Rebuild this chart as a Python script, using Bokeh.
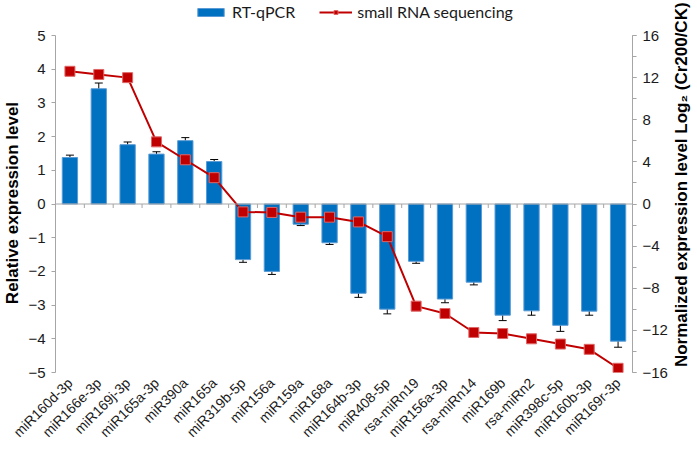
import math
from bokeh.plotting import figure
from bokeh.layouts import row
from bokeh.models import (ColumnDataSource, Range1d, LinearAxis, FixedTicker,
                          SingleIntervalTicker, Whisker, Legend, LegendItem, Span)
from bokeh.core.properties import value
from bokeh.embed import file_html
from bokeh.resources import INLINE

mirnas = ["miR160d-3p", "miR166e-3p", "miR169j-3p", "miR165a-3p", "miR390a",
          "miR165a", "miR319b-5p", "miR156a", "miR159a", "miR168a",
          "miR164b-3p", "miR408-5p", "rsa-miRn19", "miR156a-3p", "rsa-miRn14",
          "miR169b", "rsa-miRn2", "miR398c-5p", "miR160b-3p", "miR169r-3p"]
rt_qpcr = [1.38, 3.42, 1.76, 1.48, 1.88, 1.26, -1.65, -2.0, -0.6, -1.15,
           -2.65, -3.12, -1.7, -2.82, -2.32, -3.3, -3.17, -3.6, -3.18, -4.07]
rt_qpcr_err = [0.07, 0.17, 0.08, 0.07, 0.09, 0.06, 0.08, 0.09, 0.04, 0.05,
               0.12, 0.14, 0.06, 0.11, 0.08, 0.16, 0.13, 0.18, 0.12, 0.18]
seq_log2 = [12.6, 12.3, 12.0, 5.9, 4.2, 2.5, -0.75, -0.8, -1.25, -1.25,
            -1.7, -3.1, -9.7, -10.4, -12.2, -12.3, -12.8, -13.3, -13.8, -15.6]
left_lim = (-5, 5)
right_lim = (-16, 16)
left_title = "Relative expression level"
right_title = "Normalized expression level Log\u2082 (Cr200/CK)"

# layout (pixels)
FRAME_W, FRAME_H = 577, 372
AXIS_H = 337                 # height of the -5..5 axis
TOP_PAD = FRAME_H - AXIS_H   # room above the axes for the legend
TOTAL_H = 447
TITLE_W = 22

n = len(mirnas)
xs = list(range(n))
src = ColumnDataSource(dict(
    x=xs, qpcr=rt_qpcr,
    upper=[v + e for v, e in zip(rt_qpcr, rt_qpcr_err)],
    lower=[v - e for v, e in zip(rt_qpcr, rt_qpcr_err)],
    seq=seq_log2))

GRAY = "#A6A6A6"
TXT = "#1a1a1a"

l_span = left_lim[1] - left_lim[0]
r_span = right_lim[1] - right_lim[0]
p = figure(frame_width=FRAME_W, frame_height=FRAME_H,
           output_backend="svg", toolbar_location=None,
           x_range=Range1d(-0.5, n - 0.5),
           y_range=Range1d(left_lim[0], left_lim[1] + l_span * TOP_PAD / AXIS_H),
           x_axis_location=None, y_axis_location=None,
           min_border_left=45, min_border_right=37, min_border_top=0,
           min_border_bottom=TOTAL_H - FRAME_H)
p.extra_y_ranges = {"seq": Range1d(right_lim[0], right_lim[1] + r_span * TOP_PAD / AXIS_H)}
p.outline_line_color = None
p.xgrid.visible = False
p.ygrid.visible = False

# zero line with short ticks at the category boundaries
p.add_layout(Span(location=0, dimension="width", line_color=GRAY, line_width=1))
bounds = [i + 0.5 for i in range(n - 1)]
tick_len = l_span * 4 / AXIS_H
p.segment(x0=bounds, x1=bounds, y0=[0] * len(bounds), y1=[-tick_len] * len(bounds),
          line_color=GRAY, line_width=1)

bars = p.vbar(x="x", top="qpcr", bottom=0, width=0.53, source=src,
              fill_color="#0070C0", line_color="#5B9BD5", line_width=1)
wh = Whisker(base="x", upper="upper", lower="lower", source=src,
             line_color="black", line_width=1)
wh.upper_head.size = 8
wh.lower_head.size = 8
wh.upper_head.line_color = "black"
wh.lower_head.line_color = "black"
p.add_layout(wh)

ln = p.line(x="x", y="seq", source=src, y_range_name="seq",
            line_color="#C00000", line_width=2)
pts = p.scatter(x="x", y="seq", source=src, y_range_name="seq", marker="square",
                size=10, fill_color="#C00000", line_color="#E06666", line_width=1)

NB = "\u00a0"
left = LinearAxis(ticker=SingleIntervalTicker(interval=1, num_minor_ticks=0),
                  bounds=left_lim, axis_label=left_title + NB * 7)
right = LinearAxis(y_range_name="seq", bounds=right_lim,
                   ticker=SingleIntervalTicker(interval=4, num_minor_ticks=2))
for ax in (left, right):
    ax.axis_line_color = GRAY
    ax.major_tick_line_color = GRAY
    ax.minor_tick_line_color = GRAY
    ax.major_tick_out = 4
    ax.major_tick_in = 0
    ax.minor_tick_out = 4
    ax.minor_tick_in = 0
    ax.major_label_text_font = "Liberation Sans"
    ax.major_label_text_font_size = "15px"
    ax.major_label_text_color = TXT
    ax.major_label_standoff = 6
    ax.axis_label_text_font = "Liberation Sans"
    ax.axis_label_text_font_style = "bold"
    ax.axis_label_text_font_size = "17px"
    ax.axis_label_text_color = "black"
    ax.axis_label_standoff = 3
left.minor_tick_line_color = None
p.add_layout(left, "left")
p.add_layout(right, "right")

bottom = LinearAxis(ticker=FixedTicker(ticks=xs),
                    major_label_overrides={i: m for i, m in enumerate(mirnas)},
                    major_label_orientation=math.pi / 4,
                    axis_line_color=None, major_tick_line_color=None,
                    minor_tick_line_color=None, major_tick_out=0,
                    major_label_standoff=8,
                    major_label_text_font="Liberation Sans",
                    major_label_text_font_size="14px",
                    major_label_text_color=TXT)
p.add_layout(bottom, "below")

legend = Legend(items=[LegendItem(label="RT-qPCR", renderers=[bars]),
                       LegendItem(label="small RNA sequencing", renderers=[ln, pts])],
                orientation="horizontal", location=(139, FRAME_H - 21),
                border_line_color=None, background_fill_alpha=0,
                glyph_width=33, glyph_height=10, label_standoff=5, spacing=24,
                padding=0, margin=0,
                label_text_font="Lato", label_text_font_size="16px",
                label_text_color=TXT)
p.add_layout(legend, "center")

# right-hand axis title, reading bottom-to-top, in a narrow strip beside the chart
t = figure(width=TITLE_W, height=TOTAL_H, output_backend="svg", toolbar_location=None,
           x_range=Range1d(0, 1), y_range=Range1d(0, TOTAL_H),
           x_axis_location=None, y_axis_location=None, min_border=0)
t.outline_line_color = None
t.xgrid.visible = False
t.ygrid.visible = False
t.text(x=[0.5], y=[TOTAL_H - 222], text=[right_title], angle=math.pi / 2,
       text_align="center", text_baseline="middle",
       text_font=value("Liberation Sans"), text_font_style="bold",
       text_font_size="17px", text_color="black")

layout = row(p, t)

with open("out.html", "w") as f:
    f.write(file_html(layout, INLINE))
